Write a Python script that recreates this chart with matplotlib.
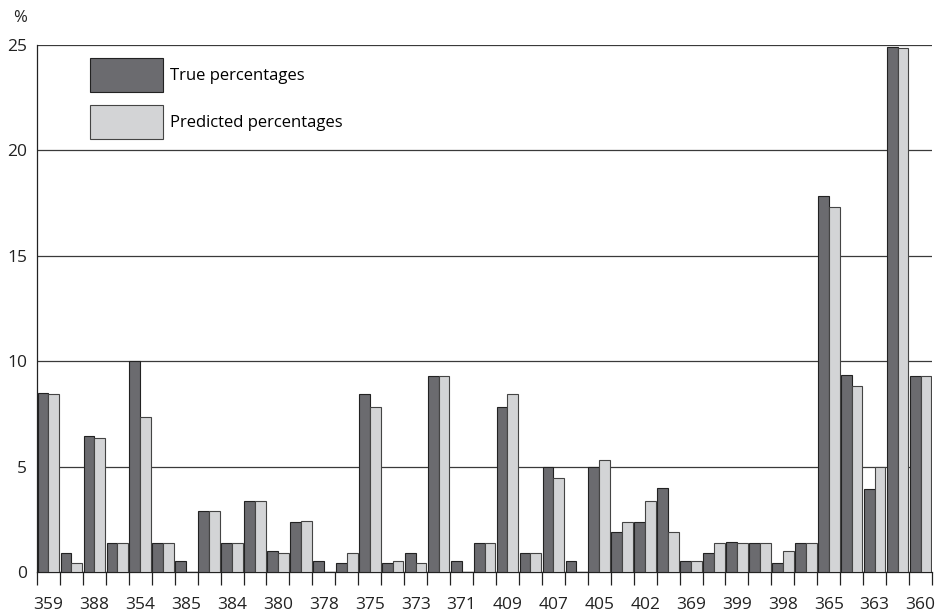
import matplotlib
matplotlib.use("Agg")
import matplotlib.pyplot as plt
import numpy as np

plt.rcParams['font.family'] = ['Open Sans', 'DejaVu Sans']

# one label on every other group; the groups in between have no label in the source
labels = ['359', '', '388', '', '354', '', '385', '', '384', '', '380', '', '378', '',
          '375', '', '373', '', '371', '', '409', '', '407', '', '405', '', '402', '',
          '369', '', '399', '', '398', '', '365', '', '363', '', '360']

true_pct = [8.50, 0.93, 6.44, 1.40, 10.0, 1.40, 0.52, 2.89, 1.40, 3.36, 0.99, 2.38, 0.52,
            0.46, 8.45, 0.46, 0.93, 9.31, 0.52, 1.40, 7.84, 0.93, 5.00, 0.52, 5.00, 1.91,
            2.37, 4.02, 0.52, 0.93, 1.45, 1.40, 0.46, 1.40, 17.85, 9.35, 3.97, 24.89, 9.30]

pred_pct = [8.45, 0.46, 6.39, 1.40, 7.38, 1.40, 0.0, 2.89, 1.40, 3.36, 0.93, 2.41, 0.0,
            0.93, 7.84, 0.52, 0.46, 9.31, 0.0, 1.40, 8.45, 0.93, 4.45, 0.0, 5.32, 2.37,
            3.36, 1.91, 0.52, 1.40, 1.40, 1.40, 0.99, 1.40, 17.31, 8.82, 5.00, 24.85, 9.30]

dark = '#6b6b6f'
light = '#d3d4d6'

fig = plt.figure(figsize=(9.38, 6.15), dpi=100)
ax = fig.add_axes([37 / 938, 1 - 572.3 / 615, 895 / 938, (572.3 - 45) / 615])

n = len(labels)
x = np.arange(n)
w = 0.47
ax.bar(x + 0.5 - w / 2, true_pct, width=w, color=dark, edgecolor='#222222',
       linewidth=0.8, zorder=3, label='True percentages')
ax.bar(x + 0.5 + w / 2, pred_pct, width=w, color=light, edgecolor='#444444',
       linewidth=0.8, zorder=3, label='Predicted percentages')

ax.set_xlim(0, n)
ax.set_ylim(0, 25)

# tick marks between groups, labels centred under groups
ax.set_xticks(np.arange(n + 1))
ax.set_xticklabels([])
ax.tick_params(axis='x', which='major', length=9.5, width=0.9, color='#222222')
ax.set_xticks(x + 0.5, minor=True)
ax.set_xticklabels(labels, minor=True, fontsize=12.5, color='#222222')
ax.tick_params(axis='x', which='minor', length=0, pad=18)

ax.set_yticks([0, 5, 10, 15, 20, 25])
ax.set_yticklabels(['0', '5', '10', '15', '20', '25'], fontsize=12.5, color='#222222')
ax.tick_params(axis='y', length=0, pad=7)
ax.yaxis.grid(True, color='#3a3a3a', linewidth=0.9, zorder=0)
ax.set_axisbelow(True)

for side in ['top', 'right']:
    ax.spines[side].set_visible(False)
for side in ['left', 'bottom']:
    ax.spines[side].set_color('#222222')
    ax.spines[side].set_linewidth(0.9)

fig.text(13 / 938, 1 - 18 / 615, '%', fontsize=12, color='#222222', va='center')

ax.legend(loc='upper left', bbox_to_anchor=(0.052, 0.988), frameon=False, fontsize=12,
          handlelength=4.36, handleheight=2.75, handletextpad=0.45, labelspacing=0.8,
          borderaxespad=0)

fig.savefig('out.png', dpi=100)
